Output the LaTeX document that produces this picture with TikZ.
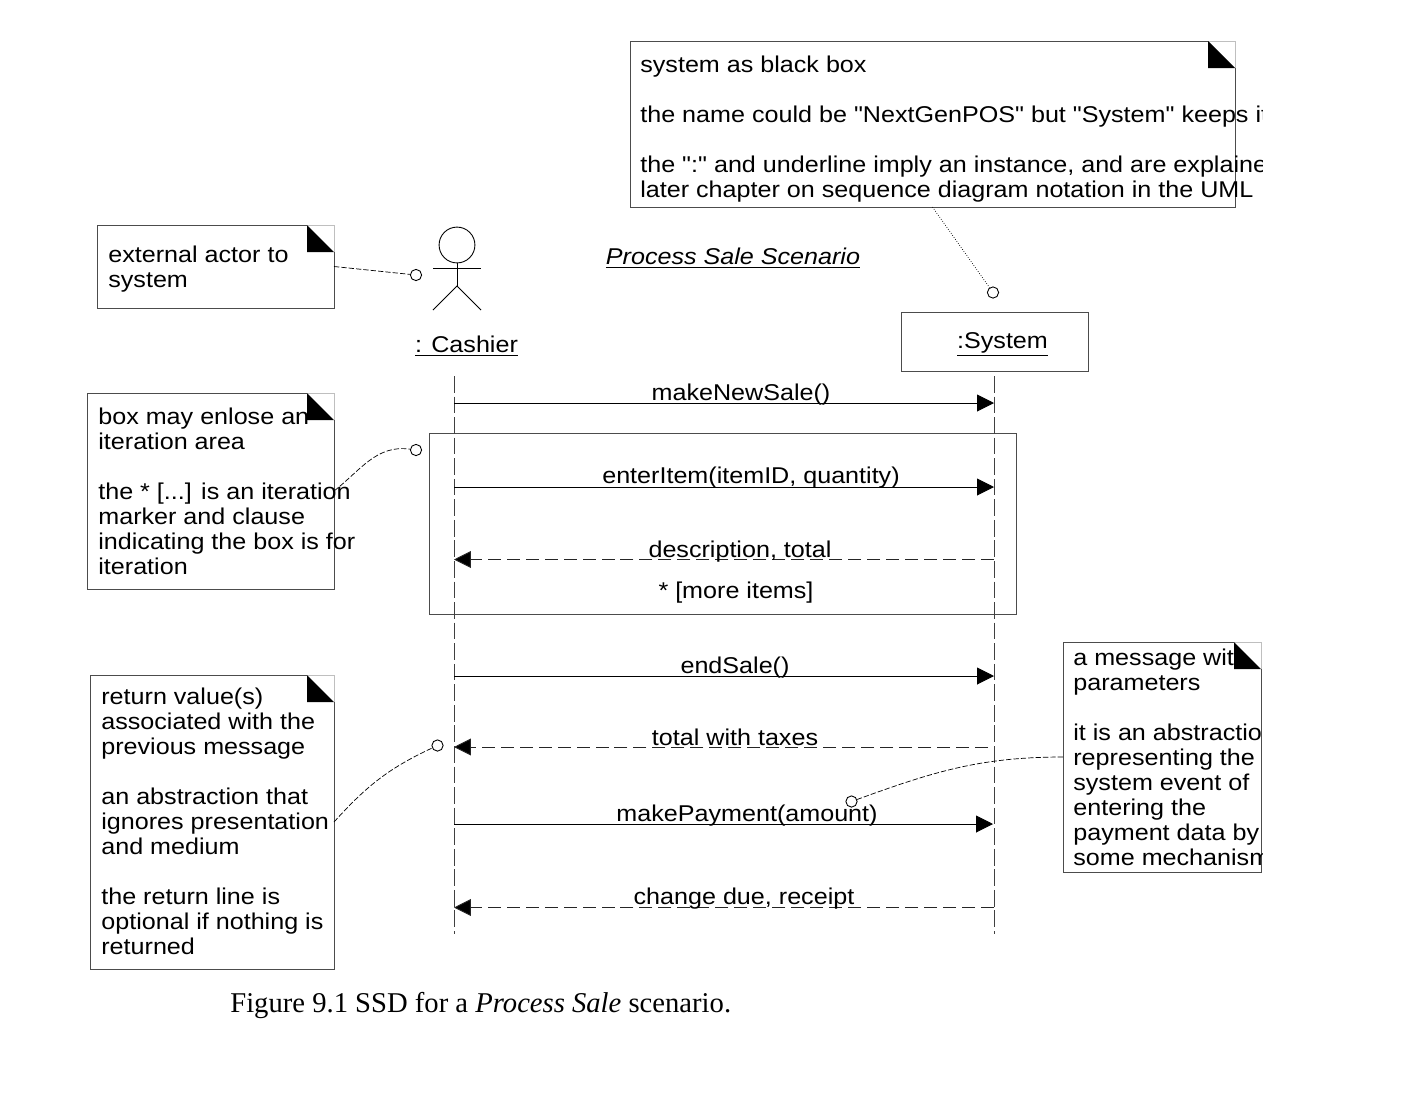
\documentclass[tikz,border=0pt]{standalone}
\usepackage{fontspec}
\newfontfamily\notefamily[FakeStretch=1.1]{Liberation Sans}
\newfontfamily\captionfont{Liberation Serif}
\usetikzlibrary{arrows.meta,fit,calc}
\newcommand{\notefont}{\notefamily\fontsize{13}{14.2}\selectfont}
\tikzset{
	boxline/.style={draw=black!70,line width=0.45pt},
	notebox/.style={boxline,fill=white,inner sep=0pt,outer sep=0pt,rectangle},
	notetext/.style={anchor=north west,inner sep=0pt,align=left,font=\notefont,execute at begin node=\strut},
	msgtext/.style={anchor=base,inner sep=0pt,font=\notefont},
	lolly/.style={circle,draw=black,fill=white,line width=0.5pt,inner sep=0pt,minimum size=6.4pt},
	lifeline/.style={draw=black!75,line width=0.5pt,dash pattern=on 9.5pt off 2.2pt},
	msgcall/.style={draw=black,line width=0.5pt,-{Triangle[length=9.6pt,width=9.6pt]}},
	msgreturn/.style={draw=black!85,line width=0.5pt,dash pattern=on 7.4pt off 3.4pt,-{Triangle[length=9.6pt,width=9.6pt,fill=black]}},
	notelink/.style={draw=black,line width=0.4pt,dash pattern=on 3pt off 1.2pt}
}
% dog-ear of a note, upper right corner of the box named #1
\newcommand{\notefold}[1]{
	\draw[black!25,line width=0.5pt] ($(#1.north east)+(-27,0)$) -- (#1.north east) -- ($(#1.north east)+(0,27)$);
	\fill[black] ($(#1.north east)+(-27,0)$) -- ($(#1.north east)+(0,27)$) -- ($(#1.north east)+(-27,27)$) -- cycle;
}
\begin{document}
\begin{tikzpicture}[x=0.02cm,y=-0.02cm]
	\useasboundingbox[fill=white] (0,0) rectangle (1410,1100);

	% Notes
	\node[notebox,fit={(630,41) (1235,207)}] (blacknote) {};
	\node[notebox,fit={(97,225) (334,308)}] (actornote) {};
	\node[notebox,fit={(87,393) (334,589)}] (iternote) {};
	\node[notebox,fit={(90,675) (334,969)}] (returnnote) {};
	\node[notebox,fit={(1063,642) (1261,872)}] (paramnote) {};

	% Note texts, cut off at the right as printed
	\begin{scope}
		\clip (0,0) rectangle (1262,1100);
		\node[notetext] (blacktext) at (640,55.5) {system as black box\\[14.2pt]the name could be "NextGenPOS" but "System" keeps it simple\\[14.2pt]the ":" and underline imply an instance, and are explained in a\\later chapter on sequence diagram notation in the UML};
		\node[notetext] (paramtext) at (1073,648.5) {a message with\\parameters\\[14.2pt]it is an abstraction\\representing the\\system event of\\entering the\\payment data by\\some mechanism};
	\end{scope}
	\node[notetext] (actortext) at (108,245.5) {external actor to\\system};
	\node[notetext] (itertext) at (98,407.5) {box may enlose an\\iteration area\\[14.2pt]the * [...] is an iteration\\marker and clause\\indicating the box is for\\iteration};
	\node[notetext] (returntext) at (101,688) {return value(s)\\associated with the\\previous message\\[14.2pt]an abstraction that\\ignores presentation\\and medium\\[14.2pt]the return line is\\optional if nothing is\\returned};

	\notefold{blacknote}
	\notefold{actornote}
	\notefold{iternote}
	\notefold{returnnote}
	\notefold{paramnote}

	% Cashier
	\node[circle,draw=black,line width=0.5pt,inner sep=0pt,minimum size=20.4pt] (head) at (457,245) {};
	\coordinate (hip) at (457,286);
	\coordinate (armleft) at (433,268);
	\coordinate (armright) at (481,268);
	\coordinate (footleft) at (433,310);
	\coordinate (footright) at (481,310);
	\draw[line width=0.5pt] (head.south) -- (hip);
	\draw[line width=0.5pt] (armleft) -- (armright);
	\draw[line width=0.5pt] (footleft) -- (hip) -- (footright);
	\node[msgtext] (cashier) at (466.5,352.5) {\underline{: Cashier}};

	% System
	\node[notebox,fit={(901,312) (1088,371)}] (systembox) {};
	\node[msgtext] (system) at (1002.5,348.5) {\underline{:System}};

	\node[msgtext] (scenario) at (733,264.5) {\underline{\textit{Process Sale Scenario}}};

	% Iteration box
	\node[notebox,fill=none,fit={(429,433) (1016,614)}] (iterbox) {};

	% Lifelines
	\coordinate (cashtop) at (454,376);
	\coordinate (cashend) at (454,934);
	\coordinate (systop) at (994,376);
	\coordinate (sysend) at (994,934);
	\draw[lifeline] (cashtop) -- (cashend);
	\draw[lifeline] (systop) -- (sysend);

	% Messages
	\coordinate (cash1) at (454,403);
	\coordinate (sys1) at (994,403);
	\coordinate (cash2) at (454,487);
	\coordinate (sys2) at (994,487);
	\coordinate (cash3) at (454,559.5);
	\coordinate (sys3) at (994,559.5);
	\coordinate (cash4) at (454,676);
	\coordinate (sys4) at (994,676);
	\coordinate (cash5) at (454,747);
	\coordinate (sys5) at (988,747);
	\coordinate (cash6) at (454,824);
	\coordinate (sys6) at (993,824);
	\coordinate (cash7) at (454,907.5);
	\coordinate (sys7) at (994,907.5);
	\draw[msgcall] (cash1) -- (sys1);
	\draw[msgcall] (cash2) -- (sys2);
	\draw[msgreturn] (sys3) -- (cash3);
	\draw[msgcall] (cash4) -- (sys4);
	\draw[msgreturn] (sys5) -- (cash5);
	\draw[msgcall] (cash6) -- (sys6);
	\draw[msgreturn] (sys7) -- (cash7);

	\node[msgtext] (msg1) at (741,400.5) {makeNewSale()};
	\node[msgtext] (msg2) at (751,483.5) {enterItem(itemID, quantity)};
	\node[msgtext] (msg3) at (740,557) {description, total};
	\node[msgtext] (clause) at (736,598.5) {* [more items]};
	\node[msgtext] (msg4) at (735,673) {endSale()};
	\node[msgtext] (msg5) at (735,745) {total with taxes};
	\node[msgtext] (msg6) at (747,821) {makePayment(amount)};
	\node[msgtext] (msg7) at (744,904) {change due, receipt};

	% Note links
	\node[lolly] (actorend) at (416,275) {};
	\node[lolly] (blackend) at (993,292.5) {};
	\node[lolly] (iterend) at (416,450) {};
	\node[lolly] (returnend) at (437.5,745.5) {};
	\node[lolly] (paramend) at (851.5,801.5) {};
	\draw[notelink] (actornote.east) -- (actorend);
	\draw[draw=black,line width=0.4pt,densely dotted] (blacknote.south) -- (blackend);
	\draw[notelink] (iternote.east) to[out=38,in=172] (iterend);
	\draw[notelink] (returnnote.east) to[out=48,in=205] (returnend);
	\draw[notelink] (paramnote.west) to[out=180,in=20] (paramend);

	% Caption
	\node[anchor=base west,inner sep=0pt,font=\captionfont\fontsize{16.3}{18}\selectfont] (caption) at (230,1012.5) {Figure 9.1 SSD for a \textit{Process Sale} scenario.};
\end{tikzpicture}
\end{document}
